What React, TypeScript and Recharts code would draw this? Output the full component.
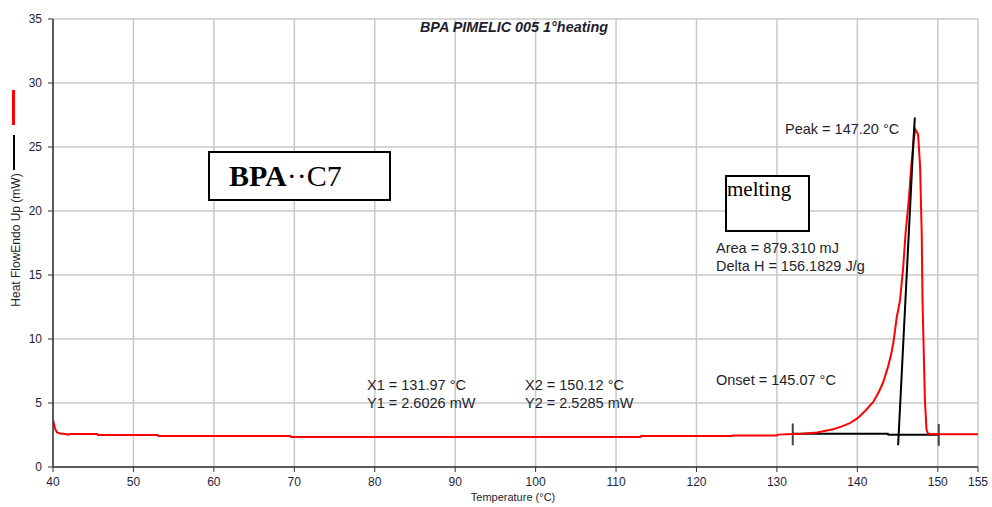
import { ComposedChart, Line, XAxis, YAxis, CartesianGrid, ReferenceLine } from 'recharts';

// DSC heating scan, temperature (°C) vs heat flow (mW)
const temps = [
  40.0, 40.1, 40.25, 40.5, 40.9, 41.5, 41.9, 42.1, 45.5, 45.6, 53.0, 53.1, 69.5, 69.6, 113.0, 113.1,
  124.4, 124.5, 130.0, 130.1, 133, 135, 137, 138, 139, 140, 141, 142, 142.7, 143.2, 143.8, 144.2,
  144.5, 144.9, 145.3, 145.7, 146.0, 146.4, 146.7, 147.0, 147.2, 147.55, 147.8, 148.0, 148.1, 148.2,
  148.4, 148.6, 148.8, 150, 155,
];
const heatFlow = [
  3.2, 3.4, 3.0, 2.7, 2.62, 2.58, 2.52, 2.58, 2.58, 2.5, 2.5, 2.42, 2.42, 2.35, 2.35, 2.42,
  2.42, 2.47, 2.47, 2.53, 2.6, 2.7, 2.95, 3.15, 3.4, 3.8, 4.4, 5.1, 5.9, 6.6, 7.8, 8.8,
  9.8, 11.7, 13.0, 15.6, 18.3, 20.9, 23.5, 25.5, 26.4, 26.0, 23.5, 18.3, 13.0, 10.4,
  5.2, 2.9, 2.6, 2.55, 2.55,
];

// integration limits and baseline
const x1 = 131.97;
const y1 = 2.6026;
const x2 = 150.12;
const y2 = 2.5285;
const baseline = [
  { t: x1, v: y1 },
  { t: 143.8, v: 2.6 },
  { t: 143.85, v: y2 },
  { t: x2, v: y2 },
];

// onset tangent
const onset = 145.07;
const peak = 147.2;
const tangent = [
  { t: onset, v: 1.7 },
  { t: 147.0, v: 25.8 },
  { t: 147.15, v: 27.3 },
];

const xTicks = [40, 50, 60, 70, 80, 90, 100, 110, 120, 130, 140, 150, 155];
const yTicks = [0, 5, 10, 15, 20, 25, 30, 35];

const curve = temps.map((t, i) => ({ t, v: heatFlow[i] }));

const sans = '"Liberation Sans", Arial, sans-serif';
const serif = '"Liberation Serif", "Times New Roman", serif';
const tickStyle = { fill: '#1e1e3c', fontSize: 12, fontFamily: sans };

const note = (left: number, top: number, text: string) => (
  <div
    style={{
      position: 'absolute',
      left,
      top: top - 8,
      lineHeight: '16px',
      fontSize: 14.5,
      fontFamily: sans,
      color: '#1e1e2e',
      whiteSpace: 'nowrap',
    }}
  >
    {text}
  </div>
);

export default function App() {
  return (
    <div style={{ position: 'relative', width: 992, height: 507, background: '#fff' }}>
      <style>{'body{margin:0}'}</style>
      <ComposedChart width={992} height={507} margin={{ top: 19, right: 14, bottom: 10, left: 13 }}>
        <CartesianGrid stroke="#c8c8c8" strokeWidth={1.5} />
        <XAxis
          dataKey="t"
          type="number"
          domain={[40, 155]}
          ticks={xTicks}
          interval={0}
          height={30}
          tick={tickStyle}
          tickSize={5}
          tickMargin={5}
          axisLine={{ stroke: '#333', strokeWidth: 1.5 }}
          tickLine={{ stroke: '#333' }}
          allowDataOverflow
        />
        <YAxis
          type="number"
          domain={[0, 35]}
          ticks={yTicks}
          interval={0}
          width={40}
          tick={tickStyle}
          tickSize={5}
          tickMargin={6}
          axisLine={{ stroke: '#333', strokeWidth: 1.5 }}
          tickLine={{ stroke: '#333' }}
        />
        <ReferenceLine segment={[{ x: x1, y: 1.7 }, { x: x1, y: 3.4 }]} stroke="#444" strokeWidth={2} />
        <ReferenceLine segment={[{ x: x2, y: 1.65 }, { x: x2, y: 3.35 }]} stroke="#444" strokeWidth={2} />
        <Line data={baseline} dataKey="v" stroke="#000" strokeWidth={2} dot={false} isAnimationActive={false} />
        <Line data={curve} dataKey="v" stroke="#ff0000" strokeWidth={2} dot={false} isAnimationActive={false} />
        <Line data={tangent} dataKey="v" stroke="#000" strokeWidth={2} dot={false} isAnimationActive={false} />
      </ComposedChart>

      {/* series markers beside the y title */}
      <div style={{ position: 'absolute', left: 12, top: 90, width: 3, height: 35, background: '#ff0000' }} />
      <div style={{ position: 'absolute', left: 13, top: 135, width: 2, height: 35, background: '#000' }} />

      <div
        style={{
          position: 'absolute',
          left: 16,
          top: 240,
          transform: 'translate(-50%, -50%) rotate(-90deg)',
          fontSize: 12,
          fontFamily: sans,
          color: '#1e1e2e',
          whiteSpace: 'nowrap',
        }}
      >
        Heat FlowEndo Up (mW)
      </div>

      <div
        style={{
          position: 'absolute',
          left: 513,
          top: 497,
          transform: 'translate(-50%, -50%)',
          fontSize: 11,
          fontFamily: sans,
          color: '#1e1e2e',
          whiteSpace: 'nowrap',
        }}
      >
        Temperature (°C)
      </div>

      <div
        style={{
          position: 'absolute',
          left: 514,
          top: 27,
          transform: 'translate(-50%, -50%)',
          fontSize: 14.4,
          fontWeight: 'bold',
          fontStyle: 'italic',
          fontFamily: sans,
          color: '#1e1e2e',
          whiteSpace: 'nowrap',
        }}
      >
        BPA PIMELIC 005 1°heating
      </div>

      <div
        style={{
          position: 'absolute',
          left: 208,
          top: 151,
          width: 160,
          height: 46,
          border: '2px solid #000',
          background: '#fff',
          fontFamily: serif,
          fontSize: 30,
          lineHeight: '46px',
          paddingLeft: 19,
          boxSizing: 'content-box',
          color: '#000',
        }}
      >
        <b>BPA</b>··C7
      </div>

      <div
        style={{
          position: 'absolute',
          left: 725,
          top: 175,
          width: 81,
          height: 53,
          border: '2px solid #000',
          background: '#fff',
          fontFamily: serif,
          fontSize: 21,
          lineHeight: '24px',
          color: '#000',
        }}
      >
        melting
      </div>

      {note(785, 129, `Peak = ${peak.toFixed(2)} °C`)}
      {note(716, 248, 'Area = 879.310 mJ')}
      {note(716, 266, 'Delta H = 156.1829 J/g')}
      {note(716, 380, `Onset = ${onset.toFixed(2)} °C`)}
      {note(367, 385, `X1 = ${x1.toFixed(2)} °C`)}
      {note(367, 403, `Y1 = ${y1.toFixed(4)} mW`)}
      {note(525, 385, `X2 = ${x2.toFixed(2)} °C`)}
      {note(525, 403, `Y2 = ${y2.toFixed(4)} mW`)}
    </div>
  );
}
